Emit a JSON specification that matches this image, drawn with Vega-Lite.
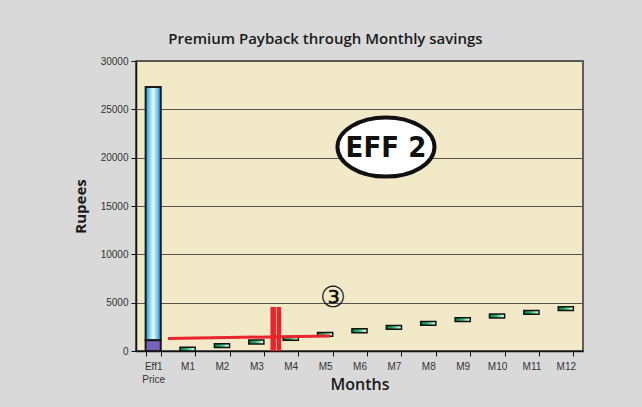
{
  "$schema": "https://vega.github.io/schema/vega-lite/v6.json",
  "width": 447,
  "height": 290,
  "autosize": {"type": "none"},
  "padding": {"left": 136, "top": 61, "right": 59, "bottom": 56},
  "background": "#d9d9d9",
  "config": {
    "view": {"fill": "#f2e9c8", "stroke": "#333333", "strokeWidth": 1.5},
    "font": "Liberation Sans"
  },
  "title": {
    "text": "Premium Payback through Monthly savings",
    "font": "Open Sans",
    "fontSize": 15,
    "fontWeight": 600,
    "color": "#1a1a1a",
    "anchor": "middle",
    "dx": -34,
    "offset": 9
  },
  "datasets": {
    "bars": [
      {"month": "Eff1 Price", "part": "base", "lo": 0, "hi": 1100},
      {"month": "Eff1 Price", "part": "price", "lo": 1100, "hi": 27300},
      {"month": "M1", "part": "saving", "lo": 0, "hi": 400},
      {"month": "M2", "part": "saving", "lo": 350, "hi": 750},
      {"month": "M3", "part": "saving", "lo": 730, "hi": 1130},
      {"month": "M4", "part": "saving", "lo": 1110, "hi": 1510},
      {"month": "M5", "part": "saving", "lo": 1520, "hi": 1920},
      {"month": "M6", "part": "saving", "lo": 1900, "hi": 2300},
      {"month": "M7", "part": "saving", "lo": 2250, "hi": 2650},
      {"month": "M8", "part": "saving", "lo": 2660, "hi": 3060},
      {"month": "M9", "part": "saving", "lo": 3040, "hi": 3440},
      {"month": "M10", "part": "saving", "lo": 3420, "hi": 3820},
      {"month": "M11", "part": "saving", "lo": 3800, "hi": 4200},
      {"month": "M12", "part": "saving", "lo": 4180, "hi": 4580}
    ]
  },
  "resolve": {"scale": {"x": "independent"}},
  "layer": [
    {
      "data": {"name": "bars"},
      "encoding": {
        "x": {
          "field": "month",
          "type": "nominal",
          "sort": null,
          "scale": {"paddingInner": 0.56, "paddingOuter": 0.28},
          "axis": {
            "title": "Months",
            "titleFont": "Open Sans",
            "titleFontSize": 16,
            "titleFontWeight": 600,
            "titleColor": "#1a1a1a",
            "titleBaseline": "alphabetic",
            "titleY": 38,
            "labelAngle": 0,
            "labelFont": "Liberation Sans",
            "labelFontSize": 10,
            "labelColor": "#333333",
            "labelPadding": 5,
            "labelLineHeight": 13,
            "labelExpr": "datum.value == 'Eff1 Price' ? ['Eff1', 'Price'] : datum.value",
            "tickBand": "extent",
            "tickSize": 5,
            "tickColor": "#111111",
            "domainColor": "#111111",
            "domainWidth": 1.5
          }
        },
        "y": {
          "field": "lo",
          "type": "quantitative",
          "scale": {"domain": [0, 30000], "nice": false},
          "axis": {
            "title": "Rupees",
            "titleFont": "Open Sans",
            "titleFontSize": 15,
            "titleFontWeight": "bold",
            "titleColor": "#1a1a1a",
            "titlePadding": 12,
            "format": "d",
            "values": [0, 5000, 10000, 15000, 20000, 25000, 30000],
            "labelFont": "Liberation Sans",
            "labelFontSize": 10,
            "labelColor": "#333333",
            "labelPadding": 3,
            "tickSize": 5,
            "tickColor": "#111111",
            "domainColor": "#111111",
            "domainWidth": 1.5,
            "grid": true,
            "gridColor": "#55554d",
            "gridWidth": 1
          }
        },
        "y2": {"field": "hi"}
      },
      "layer": [
        {
          "transform": [{"filter": "datum.part == 'price'"}],
          "mark": {
            "type": "bar",
            "stroke": "#1a1a1a",
            "strokeWidth": 2,
            "fill": {
              "gradient": "linear",
              "x1": 0, "y1": 0, "x2": 1, "y2": 0,
              "stops": [
                {"offset": 0, "color": "#0f9be0"},
                {"offset": 0.5, "color": "#f2fbff"},
                {"offset": 1, "color": "#0f9be0"}
              ]
            }
          }
        },
        {
          "transform": [{"filter": "datum.part == 'base'"}],
          "mark": {"type": "bar", "stroke": "#1a1a1a", "strokeWidth": 2, "fill": "#7465bb"}
        },
        {
          "transform": [{"filter": "datum.part == 'saving'"}],
          "mark": {
            "type": "bar",
            "stroke": "#111111",
            "strokeWidth": 1.5,
            "fill": {
              "gradient": "linear",
              "x1": 0, "y1": 0, "x2": 1, "y2": 0,
              "stops": [
                {"offset": 0, "color": "#067d47"},
                {"offset": 0.45, "color": "#2fb372"},
                {"offset": 0.85, "color": "#c6efd6"},
                {"offset": 1, "color": "#ffffff"}
              ]
            }
          }
        }
      ]
    },
    {
      "layer": [
        {
          "data": {"values": [
            {"pos": 0.93, "pos2": 5.64, "v": 1300, "v2": 1550}
          ]},
          "mark": {"type": "rule", "color": "#e8242c", "strokeWidth": 3},
          "encoding": {
            "x": {"field": "pos", "type": "quantitative", "scale": {"domain": [0, 13], "nice": false, "zero": false}, "axis": null},
            "x2": {"field": "pos2"},
            "y": {"field": "v", "type": "quantitative"},
            "y2": {"field": "v2"}
          }
        },
        {
          "data": {"values": [
            {"pos": 3.99, "v": 0, "v2": 4550, "w": "a"},
            {"pos": 4.155, "v": 0, "v2": 4550, "w": "b"}
          ]},
          "mark": {"type": "rule", "color": "#e8242c"},
          "encoding": {
            "x": {"field": "pos", "type": "quantitative", "scale": {"domain": [0, 13], "nice": false, "zero": false}, "axis": null},
            "y": {"field": "v", "type": "quantitative"},
            "y2": {"field": "v2"},
            "strokeWidth": {"field": "w", "type": "nominal", "scale": {"domain": ["a", "b"], "range": [5.5, 4.5]}, "legend": null}
          }
        },
        {
          "data": {"values": [{"pos": 5.73, "v": 5480, "label": "③"}]},
          "mark": {"type": "text", "font": "DejaVu Serif", "fontSize": 29, "color": "#111111", "baseline": "middle", "align": "center"},
          "encoding": {
            "x": {"field": "pos", "type": "quantitative", "scale": {"domain": [0, 13], "nice": false, "zero": false}, "axis": null},
            "y": {"field": "v", "type": "quantitative"},
            "text": {"field": "label"}
          }
        },
        {
          "data": {"values": [{"pos": 7.27, "v": 21100}]},
          "mark": {
            "type": "point",
            "shape": "M -1 0 A 1 0.61 0 1 1 1 0 A 1 0.61 0 1 1 -1 0 Z",
            "size": 9409,
            "filled": true,
            "fill": "#ffffff",
            "fillOpacity": 1,
            "stroke": "#111111",
            "strokeWidth": 4,
            "opacity": 1
          },
          "encoding": {
            "x": {"field": "pos", "type": "quantitative", "scale": {"domain": [0, 13], "nice": false, "zero": false}, "axis": null},
            "y": {"field": "v", "type": "quantitative"}
          }
        },
        {
          "data": {"values": [{"pos": 7.27, "v": 21100, "label": "EFF 2"}]},
          "mark": {"type": "text", "font": "DejaVu Sans Condensed, DejaVu Sans", "fontWeight": "bold", "fontSize": 29, "color": "#111111", "baseline": "middle", "align": "center", "dy": 1},
          "encoding": {
            "x": {"field": "pos", "type": "quantitative", "scale": {"domain": [0, 13], "nice": false, "zero": false}, "axis": null},
            "y": {"field": "v", "type": "quantitative"},
            "text": {"field": "label"}
          }
        }
      ]
    }
  ]
}
